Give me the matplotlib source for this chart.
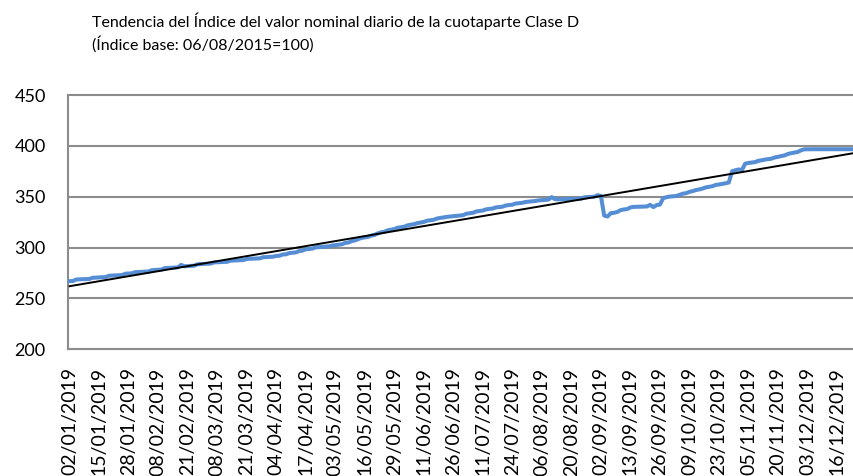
import matplotlib

matplotlib.use("Agg")

import matplotlib.pyplot as plt
import numpy as np

plt.rcParams["font.family"] = ["Lato", "DejaVu Sans"]

# Tick labels shown on the category axis (one every 9 trading days)
tick_labels = [
    "02/01/2019", "15/01/2019", "28/01/2019", "08/02/2019", "21/02/2019",
    "08/03/2019", "21/03/2019", "04/04/2019", "17/04/2019", "03/05/2019",
    "16/05/2019", "29/05/2019", "11/06/2019", "26/06/2019", "11/07/2019",
    "24/07/2019", "06/08/2019", "20/08/2019", "02/09/2019", "13/09/2019",
    "26/09/2019", "09/10/2019", "23/10/2019", "05/11/2019", "20/11/2019",
    "03/12/2019", "16/12/2019",
]
label_step = 9

# Daily index value of the unit (base 06/08/2015 = 100), one entry per trading day
index_values = [
    267.0, 267.1, 268.6, 268.8, 268.9, 269.0, 269.1, 270.3, 270.5,
    270.7, 270.8, 271.0, 272.3, 272.5, 272.6, 272.8, 273.0, 274.3,
    274.5, 274.7, 275.8, 276.0, 276.2, 276.4, 276.5, 277.7, 278.0,
    278.2, 278.4, 279.8, 280.0, 280.1, 280.3, 280.5, 283.0, 281.6,
    281.8, 282.0, 282.2, 283.6, 283.8, 284.0, 284.2, 284.3, 285.4,
    285.6, 285.7, 285.9, 286.0, 287.1, 287.3, 287.4, 287.6, 287.7,
    288.8, 289.0, 289.1, 289.3, 289.4, 290.5, 290.7, 290.9, 291.0,
    291.8, 292.0, 293.2, 293.4, 294.6, 295.0, 295.3, 296.6, 297.0,
    298.3, 298.6, 299.0, 300.2, 300.5, 300.8, 301.0, 301.2, 302.0,
    302.4, 302.8, 303.2, 304.5, 305.0, 306.3, 307.0, 308.3, 309.5,
    310.0, 310.5, 311.8, 312.5, 314.0, 315.0, 315.6, 317.0, 317.6,
    318.2, 319.5, 320.0, 320.5, 321.8, 322.5, 323.0, 324.0, 324.6,
    325.2, 326.4, 326.8, 327.3, 328.5, 329.2, 329.6, 330.2, 330.5,
    330.8, 331.2, 331.5, 331.9, 333.3, 333.8, 334.2, 335.5, 336.0,
    336.4, 337.6, 338.0, 338.4, 339.5, 339.8, 340.2, 341.4, 341.8,
    342.2, 343.3, 343.6, 344.0, 344.8, 345.2, 345.5, 345.8, 346.4,
    346.6, 346.9, 347.2, 349.6, 347.6, 347.4, 347.5, 347.6, 347.7,
    347.8, 347.9, 348.0, 348.1, 349.5, 349.7, 349.9, 350.0, 351.5,
    350.8, 331.5, 330.5, 333.8, 334.2, 335.0, 336.8, 337.5, 337.8,
    339.5, 340.0, 340.1, 340.2, 340.3, 340.4, 342.0, 339.8, 341.8,
    342.2, 348.6, 349.5, 350.2, 350.5, 350.7, 351.8, 353.0, 353.5,
    354.8, 355.5, 356.6, 357.2, 358.0, 359.2, 359.8, 360.3, 361.6,
    362.0, 362.6, 363.2, 364.0, 375.0, 376.0, 376.8, 376.2, 382.5,
    383.2, 383.6, 384.0, 385.3, 385.8, 386.5, 387.0, 387.4, 388.6,
    389.2, 390.0, 390.6, 392.0, 392.8, 393.4, 394.0, 395.6, 396.6,
    396.7, 396.7, 396.7, 396.7, 396.7, 396.7, 396.7, 396.7, 396.7,
    396.7, 396.7, 396.7, 396.7, 396.7, 396.7, 396.7, 396.7, 396.7,
    396.7,
]

y_ticks = [200, 250, 300, 350, 400, 450]

title_text = (
    "Tendencia del Índice del valor nominal diario de la cuotaparte Clase D\n"
    "(Índice base: 06/08/2015=100)"
)

x = np.arange(len(index_values))
values = np.array(index_values)
slope, intercept = np.polyfit(x, values, 1)

fig = plt.figure(figsize=(8.54, 4.76), dpi=100)
ax = fig.add_axes([0.0796, 0.2662, 0.937, 0.5342])

ax.plot(x, values, color="#558ED5", linewidth=2.9, solid_joinstyle="round", zorder=3)
ax.plot(x, intercept + slope * x, color="black", linewidth=1.4, zorder=4)

ax.set_xlim(-0.5, len(index_values) - 0.5)
ax.set_ylim(200, 450)
ax.set_yticks(y_ticks)
ax.set_xticks(x[::label_step][: len(tick_labels)])
ax.set_xticklabels(tick_labels, rotation=90, va="top", ha="center")
ax.tick_params(axis="both", length=0, colors="black")
ax.tick_params(axis="y", pad=16, labelsize=13)
ax.tick_params(axis="x", pad=13, labelsize=14)

ax.grid(axis="y", color="#8c8c8c", linewidth=1.5, clip_on=False)
ax.set_axisbelow(True)
for side in ("top", "right"):
    ax.spines[side].set_visible(False)
for side in ("left", "bottom"):
    ax.spines[side].set_color("#8c8c8c")
    ax.spines[side].set_linewidth(1.5)

fig.text(92 / 854, 1 - 12 / 476, title_text, fontsize=11.5, va="top", ha="left",
         linespacing=1.5)

fig.savefig("out.png", dpi=100)
plt.close(fig)
